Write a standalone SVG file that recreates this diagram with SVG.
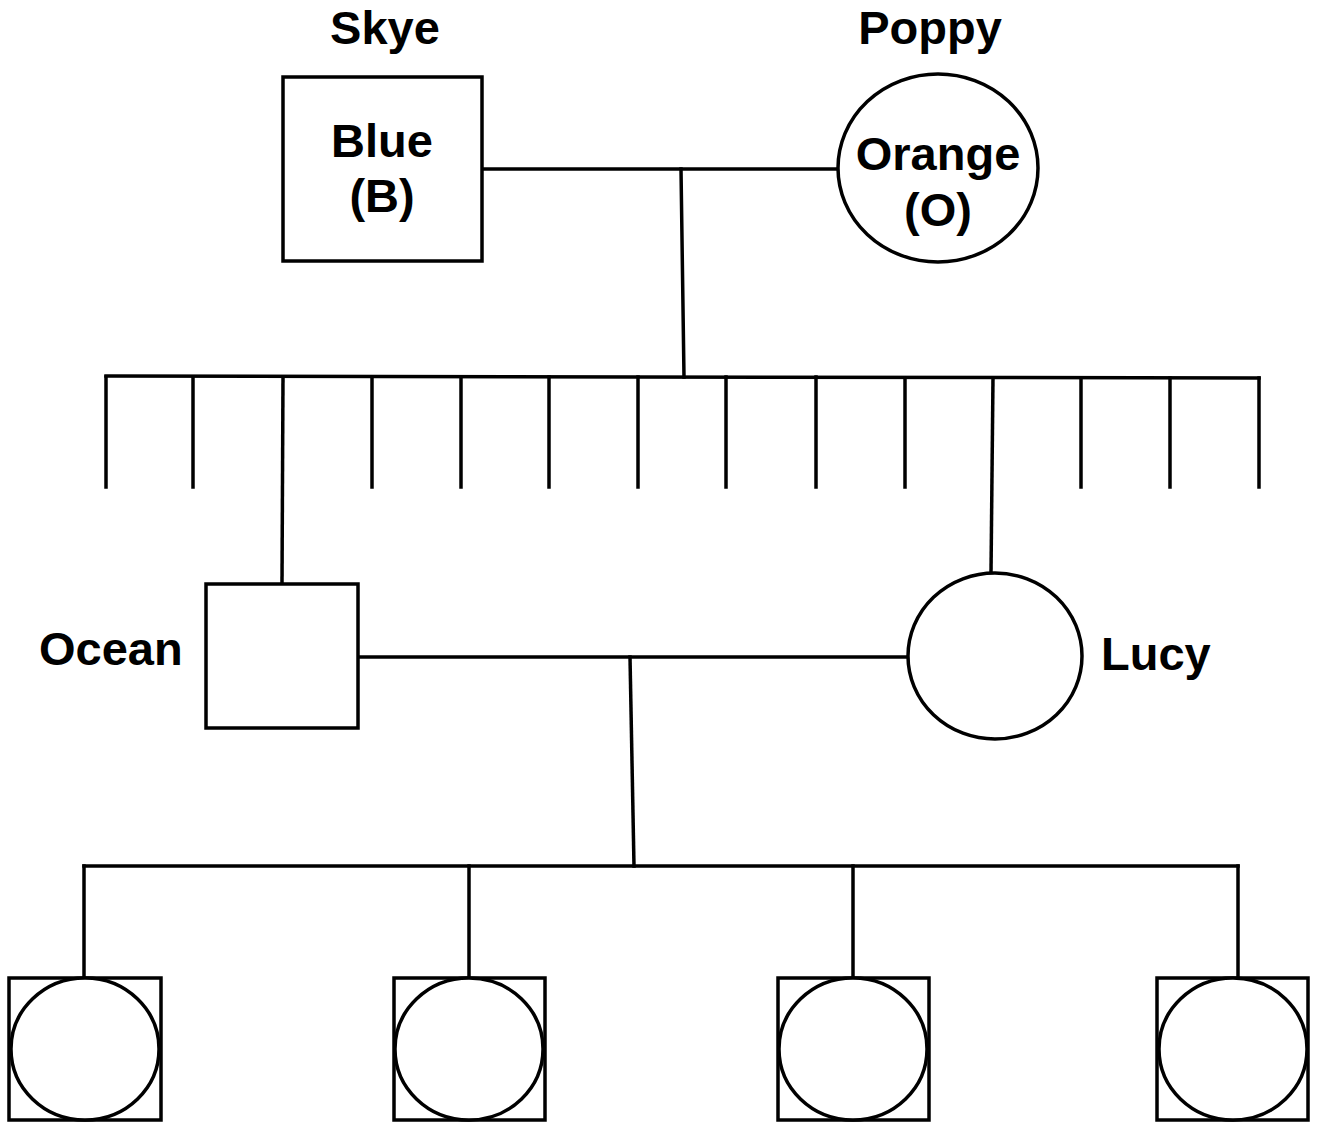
<svg xmlns="http://www.w3.org/2000/svg" width="1319" height="1126" viewBox="0 0 1319 1126">
  <style>
    .shape { fill: #ffffff; stroke: #000000; stroke-width: 3.5; }
    .link { fill: none; stroke: #000000; stroke-width: 3.5; stroke-linecap: square; }
    .label { font-family: "Liberation Sans", Arial, sans-serif; font-weight: bold; font-size: 47px; fill: #000000; }
    .mid { text-anchor: middle; }
  </style>
  <rect width="1319" height="1126" fill="#ffffff"/>

  <!-- connectors -->
  <g id="connectors">
    <!-- Skye + Poppy mating line and descent -->
    <line class="link" x1="482" y1="169" x2="838" y2="169"/>
    <line class="link" x1="681" y1="169" x2="684" y2="377"/>
    <!-- sibship line -->
    <line class="link" x1="106" y1="376" x2="1259" y2="378"/>
    <line class="link" x1="106" y1="377" x2="106" y2="487"/>
    <line class="link" x1="193" y1="377" x2="193" y2="487"/>
    <line class="link" x1="283" y1="377" x2="282" y2="583"/>
    <line class="link" x1="372" y1="377" x2="372" y2="487"/>
    <line class="link" x1="461" y1="377" x2="461" y2="487"/>
    <line class="link" x1="549" y1="377" x2="549" y2="487"/>
    <line class="link" x1="638" y1="377" x2="638" y2="487"/>
    <line class="link" x1="726" y1="377" x2="726" y2="487"/>
    <line class="link" x1="816" y1="377" x2="816" y2="487"/>
    <line class="link" x1="905" y1="378" x2="905" y2="487"/>
    <line class="link" x1="993" y1="378" x2="991" y2="573"/>
    <line class="link" x1="1081" y1="378" x2="1081" y2="487"/>
    <line class="link" x1="1170" y1="378" x2="1170" y2="487"/>
    <line class="link" x1="1259" y1="378" x2="1259" y2="487"/>
    <!-- Ocean + Lucy mating line and descent -->
    <line class="link" x1="358" y1="657" x2="908" y2="657"/>
    <line class="link" x1="630" y1="657" x2="634" y2="866"/>
    <!-- children sibship line -->
    <line class="link" x1="84" y1="866" x2="1238" y2="866"/>
    <line class="link" x1="84" y1="866" x2="84" y2="978"/>
    <line class="link" x1="469" y1="866" x2="469" y2="978"/>
    <line class="link" x1="853" y1="866" x2="853" y2="978"/>
    <line class="link" x1="1238" y1="866" x2="1238" y2="978"/>
  </g>

  <!-- Skye -->
  <g id="skye">
    <rect class="shape" x="283" y="77" width="199" height="184"/>
    <text class="label mid" x="385" y="44">Skye</text>
    <text class="label mid" x="382" y="157">Blue</text>
    <text class="label mid" x="382" y="212">(B)</text>
  </g>

  <!-- Poppy -->
  <g id="poppy">
    <ellipse class="shape" cx="938" cy="168" rx="100" ry="94"/>
    <text class="label mid" x="930" y="44">Poppy</text>
    <text class="label mid" x="938" y="170">Orange</text>
    <text class="label mid" x="938" y="226">(O)</text>
  </g>

  <!-- Ocean -->
  <g id="ocean">
    <rect class="shape" x="206" y="584" width="152" height="144"/>
    <text class="label" x="39" y="665">Ocean</text>
  </g>

  <!-- Lucy -->
  <g id="lucy">
    <ellipse class="shape" cx="995" cy="656" rx="87" ry="83"/>
    <text class="label" x="1101" y="670">Lucy</text>
  </g>

  <!-- children: sex unknown (circle inside square) -->
  <g id="child1">
    <rect class="shape" x="9" y="978" width="152" height="142"/>
    <ellipse class="shape" cx="85" cy="1049" rx="74" ry="71"/>
  </g>
  <g id="child2">
    <rect class="shape" x="394" y="978" width="151" height="142"/>
    <ellipse class="shape" cx="469" cy="1049" rx="74" ry="71"/>
  </g>
  <g id="child3">
    <rect class="shape" x="778" y="978" width="151" height="142"/>
    <ellipse class="shape" cx="853" cy="1049" rx="74" ry="71"/>
  </g>
  <g id="child4">
    <rect class="shape" x="1157" y="978" width="151" height="142"/>
    <ellipse class="shape" cx="1233" cy="1049" rx="74" ry="71"/>
  </g>
</svg>
